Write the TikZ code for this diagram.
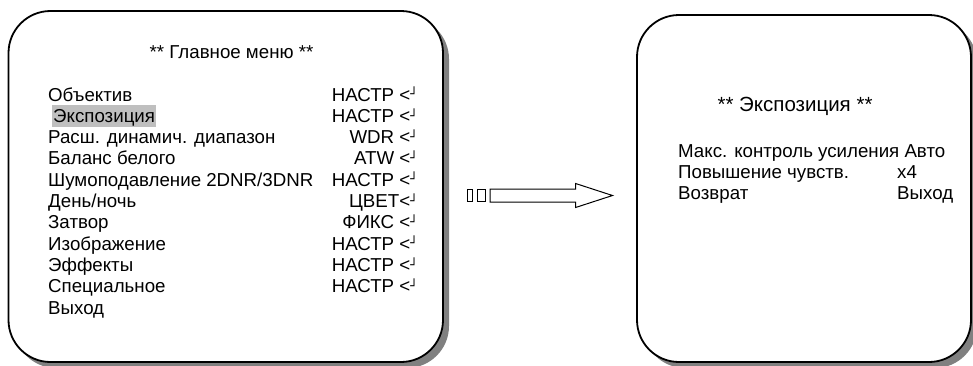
\documentclass[tikz,border=0pt]{standalone}
\usepackage{fontspec}
\setmainfont{Liberation Sans}
\newfontfamily\boxfont{DejaVu Sans}
\usetikzlibrary{shapes.arrows}

\newcommand{\ret}{<\raisebox{2.3pt}{\boxfont\fontsize{12.5}{12.5}\selectfont ┘}}

\tikzset{
	screen/.style={draw=black, line width=1.8pt, fill=white, rounded corners=42pt},
	shade/.style={fill=black!50, rounded corners=42pt},
	txt/.style={inner sep=0pt, font=\fontsize{18.7}{21.3}\selectfont}
}

\begin{document}
\begin{tikzpicture}[x=1pt,y=-1pt]
\useasboundingbox (0,0) rectangle (973,365);

% main menu screen
\fill[shade] (14,17) rectangle (449,368);
\draw[screen] (8.5,11) rectangle (443,362);

\node[txt] (title1) at (231.5,52) {** Главное меню **};

\node[txt, anchor=base west, fill=black!25, inner sep=1pt, text height=16pt, text depth=3.7pt] (m2) at (52,122.3) {Экспозиция};
\foreach \i/\name/\val in {1/{Объектив}/{НАСТР \ret}, 2/{}/{НАСТР \ret},
	3/{Расш. динамич. диапазон}/{WDR \ret}, 4/{Баланс белого}/{ATW \ret},
	5/{Шумоподавление 2DNR/3DNR}/{НАСТР \ret}, 6/{День/ночь}/{ЦВЕТ\ret},
	7/{Затвор}/{ФИКС \ret}, 8/{Изображение}/{НАСТР \ret}, 9/{Эффекты}/{НАСТР \ret},
	10/{Специальное}/{НАСТР \ret}}
{
	\node[txt, anchor=base west] (l\i) at (48,79.7+21.3*\i) {\name};
	\node[txt, anchor=base east] (r\i) at (418,79.7+21.3*\i) {\val};
}
\node[txt, anchor=base west] (l11) at (48,314) {Выход};

% exposure screen
\fill[shade] (643,21) rectangle (977,368);
\draw[screen] (637,15) rectangle (971,362);

\node[txt, font=\fontsize{20.5}{24}\selectfont] (title2) at (795,106) {** Экспозиция **};
\node[txt, anchor=base west] (e1) at (678,157) {Макс. контроль усиления Авто};
\node[txt, anchor=base west] (e2) at (678,178) {Повышение чувств.};
\node[txt, anchor=base west] (v2) at (897,178) {x4};
\node[txt, anchor=base west] (e3) at (678,199) {Возврат};
\node[txt, anchor=base west] (v3) at (897,199) {Выход};

% arrow between the screens
\draw[line width=1pt] (467.5,189.5) rectangle (472.5,201.5);
\draw[line width=1pt] (477,189.5) rectangle (485.5,201.5);
\node[single arrow, draw, line width=1pt, minimum height=122.5pt, minimum width=24pt,
	inner xsep=0pt, inner ysep=6pt, single arrow head extend=5.5pt,
	single arrow tip angle=36, anchor=west] (go) at (489.5,195.5) {};
\end{tikzpicture}
\end{document}
